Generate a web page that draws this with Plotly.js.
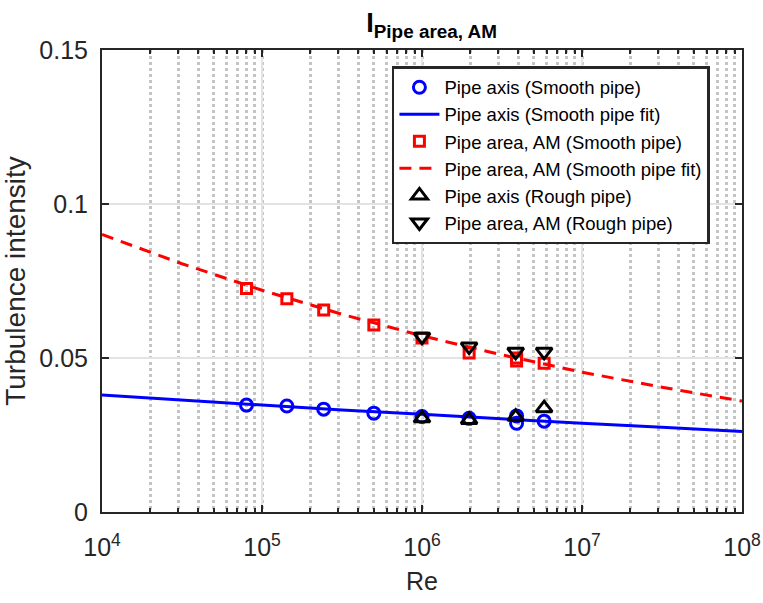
<!DOCTYPE html>
<html>
<head>
<meta charset="utf-8">
<script src="https://cdn.plot.ly/plotly-3.0.1.min.js"></script>
<style>
  html, body { margin: 0; padding: 0; background: #fff; }
  #chart { width: 763px; height: 603px; }
</style>
</head>
<body>
<div id="chart"></div>
<script>
// -----------------------------
// Data
// -----------------------------
const reSmooth = [8.0e4, 1.43e5, 2.43e5, 5.0e5, 1.0e6, 1.97e6, 3.9e6, 3.9e6, 5.8e6];
const axisSmooth = [0.0347, 0.0344, 0.0334, 0.0321, 0.0310, 0.0304, 0.0312, 0.0288, 0.0295];
const areaSmooth = [0.0726, 0.0692, 0.0656, 0.0607, 0.0565, 0.0516, 0.0500, 0.0490, 0.0483];

const reRough = [1.0e6, 1.97e6, 3.85e6, 5.8e6];
const axisRough = [0.0304, 0.0299, 0.0309, 0.0337];
const areaRough = [0.0569, 0.0537, 0.0520, 0.0520];

const reFit = [1e4, 3.16e4, 1e5, 3.16e5, 1e6, 3.16e6, 1e7, 3.16e7, 1e8];
const axisFit = [0.0380, 0.0363, 0.0346, 0.0331, 0.0317, 0.0302, 0.0288, 0.0275, 0.0261];
const areaFit = [0.0901, 0.0806, 0.0720, 0.0642, 0.0572, 0.0510, 0.0454, 0.0405, 0.0360];

const xTickVals = [1e4, 1e5, 1e6, 1e7, 1e8];
const xTickText = ["10<sup>4</sup>", "10<sup>5</sup>", "10<sup>6</sup>", "10<sup>7</sup>", "10<sup>8</sup>"];
const yTickVals = [0, 0.05, 0.1, 0.15];
const yTickText = ["0", "0.05", "0.1", "0.15"];

// -----------------------------
// Traces
// -----------------------------
const FONT = "Liberation Sans, Arial, Helvetica, sans-serif";
const AXIS_COLOR = "#262626";

const traces = [
  {
    type: "scatter", mode: "markers", name: "Pipe axis (Smooth pipe)",
    x: reSmooth, y: axisSmooth,
    marker: { symbol: "circle-open", size: 12, color: "#0000ff", line: { width: 3, color: "#0000ff" } }
  },
  {
    type: "scatter", mode: "lines", name: "Pipe axis (Smooth pipe fit)",
    x: reFit, y: axisFit,
    line: { color: "#0000ff", width: 3 }
  },
  {
    type: "scatter", mode: "markers", name: "Pipe area, AM (Smooth pipe)",
    x: reSmooth, y: areaSmooth,
    marker: { symbol: "square-open", size: 10, color: "#ff0000", line: { width: 3, color: "#ff0000" } }
  },
  {
    type: "scatter", mode: "lines", name: "Pipe area, AM (Smooth pipe fit)",
    x: reFit, y: areaFit,
    line: { color: "#ff0000", width: 3, dash: "12px,8px" }
  },
  {
    type: "scatter", mode: "markers", name: "Pipe axis (Rough pipe)",
    x: reRough, y: axisRough,
    marker: { symbol: "triangle-up-open", size: 14, color: "#000000", line: { width: 3, color: "#000000" } }
  },
  {
    type: "scatter", mode: "markers", name: "Pipe area, AM (Rough pipe)",
    x: reRough, y: areaRough,
    marker: { symbol: "triangle-down-open", size: 14, color: "#000000", line: { width: 3, color: "#000000" } }
  }
];

// -----------------------------
// Layout (MATLAB-like look)
// -----------------------------
const layout = {
  width: 763,
  height: 603,
  paper_bgcolor: "#ffffff",
  plot_bgcolor: "#ffffff",
  margin: { l: 102, r: 21, t: 50, b: 91 },
  font: { family: FONT, color: AXIS_COLOR },
  showlegend: true,
  title: {
    text: "<b>I<sub>Pipe area, AM</sub></b>",
    font: { family: FONT, size: 27, color: "#000000" },
    xref: "paper", x: 0.515, xanchor: "center",
    yref: "container", y: 0.962, yanchor: "middle"
  },
  xaxis: {
    type: "log",
    range: [4, 8],
    tickvals: xTickVals,
    ticktext: xTickText,
    tickfont: { size: 25, color: AXIS_COLOR },
    ticklabelstandoff: 12,
    ticks: "inside", ticklen: 7, tickwidth: 2, tickcolor: AXIS_COLOR,
    showline: true, linecolor: AXIS_COLOR, linewidth: 2, mirror: "ticks",
    showgrid: true, gridcolor: "#e3e3e3", gridwidth: 2,
    zeroline: false,
    minor: {
      dtick: "D1",
      ticks: "inside", ticklen: 4, tickwidth: 2, tickcolor: AXIS_COLOR,
      showgrid: true, gridcolor: "#c4c4c4", gridwidth: 2.5, griddash: "3px,3px"
    },
    title: { text: "Re", font: { family: FONT, size: 25, color: AXIS_COLOR }, standoff: 12 }
  },
  yaxis: {
    range: [0, 0.15],
    tickvals: yTickVals,
    ticktext: yTickText,
    tickfont: { size: 25, color: AXIS_COLOR },
    ticklabelstandoff: 7,
    ticks: "inside", ticklen: 7, tickwidth: 2, tickcolor: AXIS_COLOR,
    showline: true, linecolor: AXIS_COLOR, linewidth: 2, mirror: "ticks",
    showgrid: true, gridcolor: "#e3e3e3", gridwidth: 2,
    zeroline: false,
    title: { text: "Turbulence intensity", font: { family: FONT, size: 28, color: AXIS_COLOR }, standoff: 12 }
  },
  legend: {
    x: 0.453, y: 0.965, xanchor: "left", yanchor: "top",
    bgcolor: "#ffffff",
    bordercolor: "#262626", borderwidth: 2.5,
    font: { family: FONT, size: 18.5, color: "#000000" },
    tracegroupgap: 0,
    itemwidth: 40
  }
};

Plotly.newPlot("chart", traces, layout, { displayModeBar: false, responsive: false });
</script>
</body>
</html>
